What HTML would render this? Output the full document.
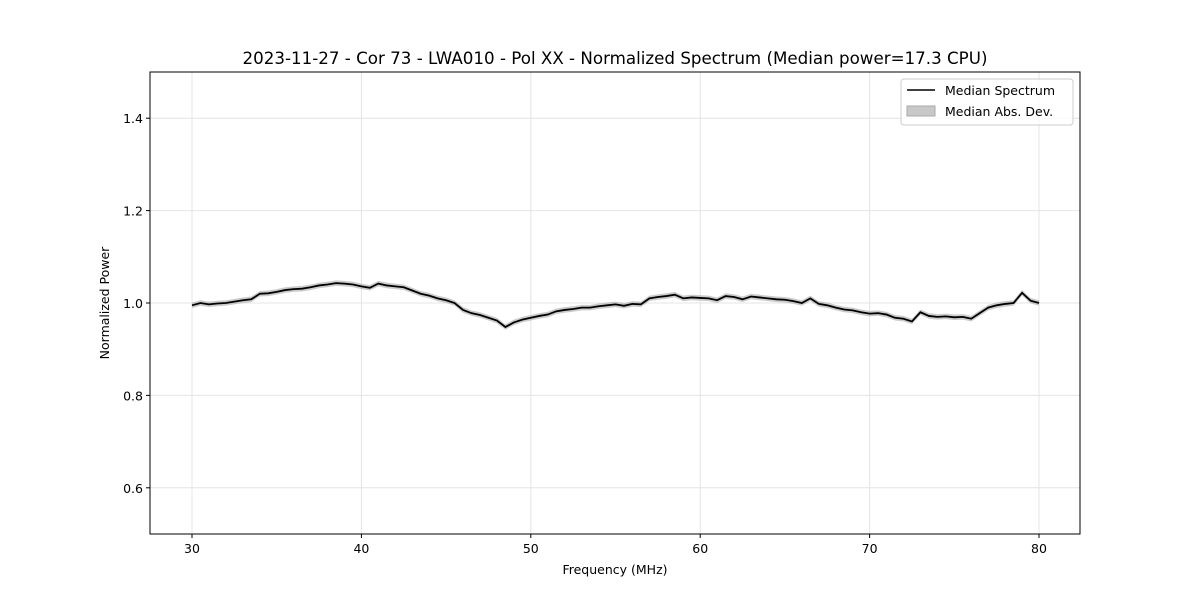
<!DOCTYPE html>
<html><head><meta charset="utf-8"><style>
body{margin:0;background:#fff}
svg{font-family:"DejaVu Sans","Liberation Sans",sans-serif}
</style></head><body>
<svg id="c" width="1200" height="600" xmlns="http://www.w3.org/2000/svg">
<rect width="1200" height="600" fill="#fff"/>
<g id="grid"></g>
<g id="series"></g>
<rect x="150" y="72" width="930" height="462" fill="none" stroke="#000" stroke-width="1"/>
<g id="ticks"></g>
<text x="615" y="64" text-anchor="middle" font-size="16.7">2023-11-27 - Cor 73 - LWA010 - Pol XX - Normalized Spectrum (Median power=17.3 CPU)</text>
<text x="615" y="574" text-anchor="middle" font-size="12.5">Frequency (MHz)</text>
<text transform="translate(109,303) rotate(-90)" text-anchor="middle" font-size="12.5">Normalized Power</text>
<g>
<rect x="901" y="79" width="172" height="46" rx="3" fill="#fff" fill-opacity="0.8" stroke="#ccc"/>
<g>
<line x1="907" y1="90" x2="935" y2="90" stroke="#000" stroke-width="1.5"/>
<text x="945" y="95" font-size="12.5">Median Spectrum</text></g>
<g>
<rect x="907" y="106" width="28" height="10" fill="#c8c8c8" stroke="#aaa"/>
<text x="945" y="116" font-size="12.5">Median Abs. Dev.</text></g>
</g>
</svg>
<script>
const freqStart = 30, freqStep = 0.5;
const medianValues = [0.995,1.000,0.997,0.999,1.000,1.003,1.006,1.008,1.020,1.021,1.024,1.028,1.030,1.031,1.034,1.038,1.040,1.043,1.042,1.040,1.036,1.033,1.042,1.038,1.036,1.034,1.027,1.020,1.016,1.010,1.006,1.000,0.985,0.978,0.974,0.968,0.962,0.948,0.958,0.964,0.968,0.972,0.975,0.982,0.985,0.987,0.990,0.990,0.993,0.995,0.997,0.994,0.998,0.997,1.010,1.013,1.015,1.018,1.010,1.012,1.011,1.010,1.006,1.015,1.013,1.008,1.014,1.012,1.010,1.008,1.007,1.004,1.000,1.010,0.998,0.995,0.990,0.986,0.984,0.980,0.977,0.978,0.975,0.968,0.966,0.960,0.980,0.972,0.970,0.971,0.969,0.970,0.966,0.978,0.990,0.995,0.998,1.000,1.022,1.005,1.000];
const madValue = 0.006;
const xTicks = [30,40,50,60,70,80];
const yTicks = [0.6,0.8,1.0,1.2,1.4];
const X0=150,X1=1080,Y0=72,Y1=534,xMin=27.52,xMax=82.42,yMin=0.5,yMax=1.5;
const xs=v=>X0+(v-xMin)/(xMax-xMin)*(X1-X0);
const ys=v=>Y1-(v-yMin)/(yMax-yMin)*(Y1-Y0);
const NS="http://www.w3.org/2000/svg";
const mk=(t,a,p)=>{const e=document.createElementNS(NS,t);for(const k in a)e.setAttribute(k,a[k]);p.appendChild(e);return e;};
const grid=document.getElementById('grid'),ticks=document.getElementById('ticks'),ser=document.getElementById('series');
xTicks.forEach(t=>{const x=xs(t);
const g=mk('line',{x1:x,x2:x,y1:Y0,y2:Y1,stroke:'#e4e4e4'},grid);


mk('line',{x1:x,x2:x,y1:Y1,y2:Y1+4,stroke:'#000'},ticks);
const l=mk('text',{x:x,y:Y1+19,'text-anchor':'middle','font-size':12.5},ticks);l.textContent=t;

});
yTicks.forEach(t=>{const y=ys(t);
const g=mk('line',{x1:X0,x2:X1,y1:y,y2:y,stroke:'#e4e4e4'},grid);


mk('line',{x1:X0-4,x2:X0,y1:y,y2:y,stroke:'#000'},ticks);
const l=mk('text',{x:X0-7,y:y+5,'text-anchor':'end','font-size':12.5},ticks);l.textContent=t.toFixed(1);

});
const pts=medianValues.map((v,i)=>[xs(freqStart+i*freqStep),v]);
const up=pts.map(p=>p[0]+','+ys(p[1]+madValue)).join(' ');
const dn=pts.slice().reverse().map(p=>p[0]+','+ys(p[1]-madValue)).join(' ');
const band=mk('polygon',{points:up+' '+dn,fill:'#aaa','fill-opacity':0.6},ser);


const line=mk('polyline',{points:pts.map(p=>p[0]+','+ys(p[1])).join(' '),fill:'none',stroke:'#000','stroke-width':1.8},ser);


</script>
</body></html>
